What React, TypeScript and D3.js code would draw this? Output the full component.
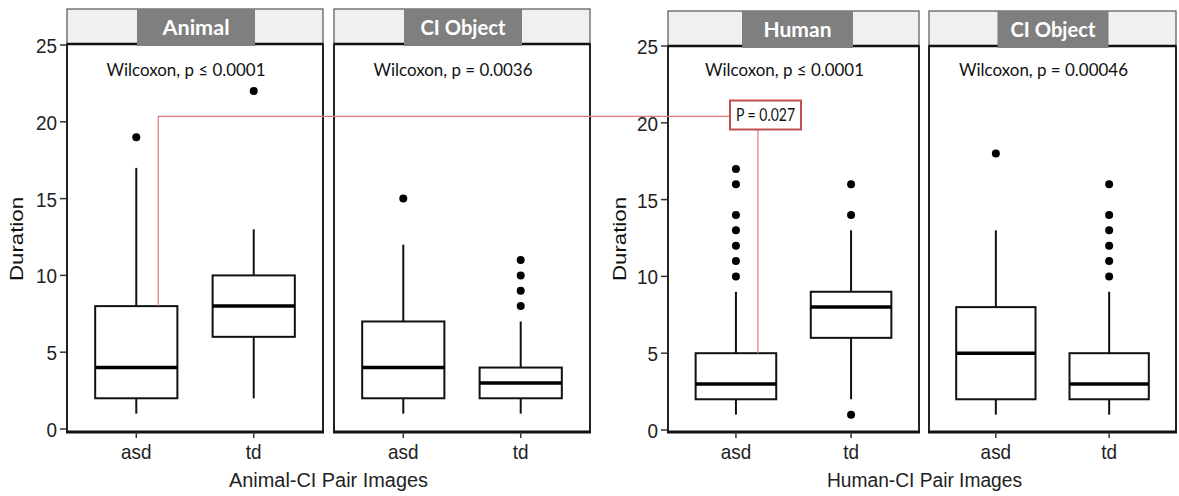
import React from "react";
import * as d3 from "d3";

// ---- data ----
const panelNames = ["Animal", "CI Object", "Human", "CI Object"];
const groups = ["asd", "td"];
const wilcoxonLabels = [
  "Wilcoxon, p \u2264 0.0001",
  "Wilcoxon, p = 0.0036",
  "Wilcoxon, p \u2264 0.0001",
  "Wilcoxon, p = 0.00046",
];
const whiskerLow = [[1, 2], [1, 1], [1, 2], [1, 1]];
const q1 = [[2, 6], [2, 2], [2, 6], [2, 2]];
const median = [[4, 8], [4, 3], [3, 8], [5, 3]];
const q3 = [[8, 10], [7, 4], [5, 9], [8, 5]];
const whiskerHigh = [[17, 13], [12, 7], [9, 13], [13, 9]];
const outliers = [
  [[19], [22]],
  [[15], [8, 9, 10, 11]],
  [[10, 11, 12, 13, 14, 16, 17], [1, 14, 16]],
  [[18], [10, 11, 12, 13, 14, 16]],
];
const yTicks = [0, 5, 10, 15, 20, 25];
const xTitles = ["Animal-CI Pair Images", "Human-CI Pair Images"];
const yTitle = "Duration";
const annotationLabel = "P = 0.027";
const annotationLevel = 20.35;

// ---- layout ----
const W = 1179;
const H = 496;
const panelX: [number, number][] = [
  [67, 323],
  [334, 590],
  [668, 919],
  [929, 1176],
];
const plots = [
  { panels: [0, 1], stripTop: 9, panelTop: 44, panelBottom: 432, y0: 429, y25: 45, axisX: 67 },
  { panels: [2, 3], stripTop: 11, panelTop: 46, panelBottom: 432, y0: 430, y25: 46, axisX: 668 },
];

const calibri = "Lato, 'Open Sans', sans-serif";
const arial = "'Liberation Sans', Arial, sans-serif";

export default function App() {
  const yScales = plots.map((p) =>
    d3.scaleLinear().domain([0, 25]).range([p.y0, p.y25])
  );
  const xScales = panelX.map((r) =>
    d3.scalePoint<string>().domain(groups).range(r).padding(0.59)
  );
  const plotOf = (pi: number) => (pi < 2 ? 0 : 1);

  const els: React.ReactNode[] = [];

  plots.forEach((p, k) => {
    const y = yScales[k];
    // y axis ticks + labels
    yTicks.forEach((t) => {
      els.push(
        <line key={`yt${k}${t}`} x1={p.axisX - 7} x2={p.axisX} y1={y(t)} y2={y(t)} stroke="#333" strokeWidth={1.5} />
      );
      els.push(
        <text
          key={`yl${k}${t}`}
          transform={`translate(${p.axisX - 10},${y(t) + 8}) scale(0.9,1)`}
          textAnchor="end"
          fontFamily={arial}
          fontSize={21}
          fill="#222"
        >
          {t}
        </text>
      );
    });
    // y title
    const tx = k === 0 ? 23 : 626;
    els.push(
      <text
        key={`ytitle${k}`}
        transform={`translate(${tx},239) rotate(-90)`}
        textAnchor="middle"
        fontFamily={arial}
        fontSize={19}
        textLength={84}
        lengthAdjust="spacingAndGlyphs"
        fill="#111"
      >
        {yTitle}
      </text>
    );
    // x title
    const first = panelX[p.panels[0]][0];
    const last = panelX[p.panels[1]][1];
    const cx = k === 0 ? 328.5 : 924.5;
    els.push(
      <text
        key={`xtitle${k}`}
        x={cx}
        y={487}
        textAnchor="middle"
        fontFamily={arial}
        fontSize={20}
        textLength={k === 0 ? 199 : 195}
        lengthAdjust="spacingAndGlyphs"
        fill="#222"
      >
        {xTitles[k]}
      </text>
    );

    p.panels.forEach((pi) => {
      const [x0, x1] = panelX[pi];
      const xs = xScales[pi];
      const bw = xs.step() * 0.7;
      // panel background + border
      els.push(
        <rect key={`pb${pi}`} x={x0} y={p.panelTop} width={x1 - x0} height={p.panelBottom - p.panelTop} fill="#fff" stroke="#222" strokeWidth={2} />
      );
      els.push(
        <line key={`pbb${pi}`} x1={x0 - 1} x2={x1 + 1} y1={p.panelBottom} y2={p.panelBottom} stroke="#111" strokeWidth={3} />
      );
      // strip
      els.push(
        <rect key={`st${pi}`} x={x0} y={p.stripTop} width={x1 - x0} height={p.panelTop - p.stripTop} fill="#f0f0f0" stroke="#555" strokeWidth={1.2} />
      );
      els.push(
        <line key={`stb${pi}`} x1={x0} x2={x1} y1={p.panelTop} y2={p.panelTop} stroke="#111" strokeWidth={2.5} />
      );
      const mid = (x0 + x1) / 2;
      const labW = pi === 0 ? 118 : pi === 1 ? 118 : 111;
      const labCx = pi === 0 ? 196 : pi === 1 ? 463 : pi === 2 ? 797.5 : 1053;
      els.push(
        <rect key={`sl${pi}`} x={labCx - labW / 2} y={p.stripTop} width={labW} height={p.panelTop - p.stripTop + 2} fill="#7f7f7f" />
      );
      els.push(
        <text
          key={`slt${pi}`}
          x={labCx}
          y={p.stripTop + 26}
          textAnchor="middle"
          fontFamily={calibri}
          fontWeight="bold"
          fontSize={20}
          textLength={pi === 0 ? 67 : pi === 2 ? 68 : 85}
          lengthAdjust="spacingAndGlyphs"
          fill="#fff"
        >
          {panelNames[pi]}
        </text>
      );
      // wilcoxon label
      els.push(
        <text
          key={`wl${pi}`}
          x={mid - 9}
          y={76}
          textAnchor="middle"
          fontFamily={calibri}
          fontSize={17}
          textLength={pi === 0 || pi === 2 ? 159 : pi === 1 ? 159 : 169}
          lengthAdjust="spacingAndGlyphs"
          fill="#111"
        >
          {wilcoxonLabels[pi]}
        </text>
      );
      // x ticks
      groups.forEach((g) => {
        const gx = xs(g)!;
        els.push(
          <line key={`xt${pi}${g}`} x1={gx} x2={gx} y1={p.panelBottom} y2={p.panelBottom + 6} stroke="#333" strokeWidth={1.5} />
        );
        els.push(
          <text
            key={`xl${pi}${g}`}
            transform={`translate(${gx},459) scale(0.9,1)`}
            textAnchor="middle"
            fontFamily={arial}
            fontSize={21}
            fill="#222"
          >
            {g}
          </text>
        );
      });
    });
  });

  // boxplots
  panelX.forEach((_, pi) => {
    const y = yScales[plotOf(pi)];
    const xs = xScales[pi];
    const bw = xs.step() * 0.7;
    groups.forEach((g, gi) => {
      const cx = xs(g)!;
      els.push(
        <line key={`wl${pi}${gi}`} x1={cx} x2={cx} y1={y(whiskerLow[pi][gi])} y2={y(q1[pi][gi])} stroke="#111" strokeWidth={2} />
      );
      els.push(
        <line key={`wh${pi}${gi}`} x1={cx} x2={cx} y1={y(whiskerHigh[pi][gi])} y2={y(q3[pi][gi])} stroke="#111" strokeWidth={2} />
      );
      els.push(
        <rect
          key={`bx${pi}${gi}`}
          x={cx - bw / 2}
          y={y(q3[pi][gi])}
          width={bw}
          height={y(q1[pi][gi]) - y(q3[pi][gi])}
          fill="#fff"
          stroke="#111"
          strokeWidth={2}
        />
      );
      els.push(
        <line key={`md${pi}${gi}`} x1={cx - bw / 2} x2={cx + bw / 2} y1={y(median[pi][gi])} y2={y(median[pi][gi])} stroke="#000" strokeWidth={3.5} />
      );
      outliers[pi][gi].forEach((o, oi) => {
        els.push(<circle key={`o${pi}${gi}${oi}`} cx={cx} cy={y(o)} r={4} fill="#000" />);
      });
    });
  });

  // annotation connecting Animal asd and Human asd
  const yL = yScales[0];
  const yR = yScales[1];
  const ax = xScales[0]("asd")! + 22;
  const bx = xScales[2]("asd")! + 22;
  const ay = yL(annotationLevel);
  const boxX0 = 730;
  const boxX1 = 801;
  const boxY0 = 100.5;
  const boxY1 = 129.5;
  els.push(
    <path
      key="ann1"
      d={`M${ax},${yL(q3[0][0])} V${ay} H${boxX0}`}
      fill="none"
      stroke="#e07a7a"
      strokeWidth={1.2}
    />
  );
  els.push(
    <path key="ann2" d={`M${bx},${boxY1} V${yR(q3[2][0])}`} fill="none" stroke="#e07a7a" strokeWidth={1.2} />
  );
  els.push(
    <rect key="annbox" x={boxX0} y={boxY0} width={boxX1 - boxX0} height={boxY1 - boxY0} fill="#fff" stroke="#c0504d" strokeWidth={2} />
  );
  els.push(
    <text
      key="anntext"
      x={(boxX0 + boxX1) / 2}
      y={121}
      textAnchor="middle"
      fontFamily={calibri}
      fontSize={17}
      textLength={59}
      lengthAdjust="spacingAndGlyphs"
      fill="#111"
    >
      {annotationLabel}
    </text>
  );

  return (
    <svg width={W} height={H} style={{ position: "absolute", left: 0, top: 0, background: "#fff" }}>
      <rect width={W} height={H} fill="#fff" />
      {els}
    </svg>
  );
}
